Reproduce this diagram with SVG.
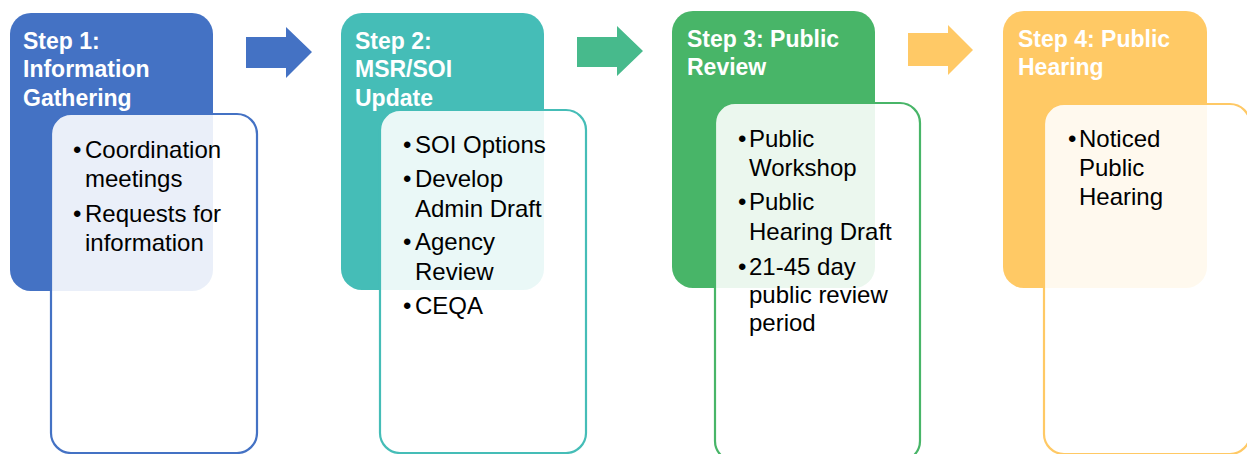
<svg xmlns="http://www.w3.org/2000/svg" width="1247" height="454" viewBox="0 0 1247 454">
<style>
.hdr{font-family:"Liberation Sans",Arial,sans-serif;font-weight:bold;font-size:23px;fill:#ffffff}
.txt{font-family:"Liberation Sans",Arial,sans-serif;font-size:24px;fill:#000000}
.box{fill:#ffffff;fill-opacity:0.89;stroke-width:2.2}
</style>
<rect width="1247" height="454" fill="#ffffff"/>
<g id="connectors">
<polygon points="246,37 286,37 286,27 312,52 286,78 286,68 246,68" fill="#4472C4"/>
<polygon points="577,37 617,37 617,26 643,51 617,76 617,67 577,67" fill="#47BA8C"/>
<polygon points="908,33 948,33 948,25 973,50 948,75 948,66 908,66" fill="#FFC966"/>
</g>
<g id="step1">
<rect x="10" y="13" width="203" height="278" rx="21" fill="#4472C4"/>
<text class="hdr" x="23" y="49">Step 1:</text>
<text class="hdr" x="23" y="77">Information</text>
<text class="hdr" x="23" y="106">Gathering</text>
<rect class="box" x="51" y="114" width="206" height="339" rx="20" stroke="#4472C4"/>
<text class="txt" y="158"><tspan x="73">•</tspan><tspan x="85">Coordination</tspan></text>
<text class="txt" x="85" y="187">meetings</text>
<text class="txt" y="222"><tspan x="73">•</tspan><tspan x="85">Requests for</tspan></text>
<text class="txt" x="85" y="251">information</text>
</g>
<g id="step2">
<rect x="341" y="13" width="203" height="277" rx="21" fill="#45BDB7"/>
<text class="hdr" x="355" y="49">Step 2:</text>
<text class="hdr" x="355" y="77">MSR/SOI</text>
<text class="hdr" x="355" y="106">Update</text>
<rect class="box" x="380" y="110" width="206" height="343" rx="20" stroke="#45BDB7"/>
<text class="txt" y="153"><tspan x="403">•</tspan><tspan x="415">SOI Options</tspan></text>
<text class="txt" y="187"><tspan x="403">•</tspan><tspan x="415">Develop</tspan></text>
<text class="txt" x="415" y="217">Admin Draft</text>
<text class="txt" y="250"><tspan x="403">•</tspan><tspan x="415">Agency</tspan></text>
<text class="txt" x="415" y="280">Review</text>
<text class="txt" y="314"><tspan x="403">•</tspan><tspan x="415">CEQA</tspan></text>
</g>
<g id="step3">
<rect x="672" y="11" width="203" height="277" rx="21" fill="#48B568"/>
<text class="hdr" x="687" y="47">Step 3: Public</text>
<text class="hdr" x="687" y="75">Review</text>
<rect class="box" x="715" y="103" width="205" height="358" rx="20" stroke="#48B568"/>
<text class="txt" y="147"><tspan x="738">•</tspan><tspan x="749">Public</tspan></text>
<text class="txt" x="749" y="176">Workshop</text>
<text class="txt" y="210"><tspan x="738">•</tspan><tspan x="749">Public</tspan></text>
<text class="txt" x="749" y="240">Hearing Draft</text>
<text class="txt" y="275"><tspan x="738">•</tspan><tspan x="749">21-45 day</tspan></text>
<text class="txt" x="749" y="303">public review</text>
<text class="txt" x="749" y="331">period</text>
</g>
<g id="step4">
<rect x="1003" y="11" width="204" height="277" rx="21" fill="#FFC965"/>
<text class="hdr" x="1018" y="47">Step 4: Public</text>
<text class="hdr" x="1018" y="75">Hearing</text>
<rect class="box" x="1044" y="104" width="206" height="350" rx="20" stroke="#FFC965"/>
<text class="txt" y="147"><tspan x="1068">•</tspan><tspan x="1079">Noticed</tspan></text>
<text class="txt" x="1079" y="176">Public</text>
<text class="txt" x="1079" y="205">Hearing</text>
</g>
</svg>
